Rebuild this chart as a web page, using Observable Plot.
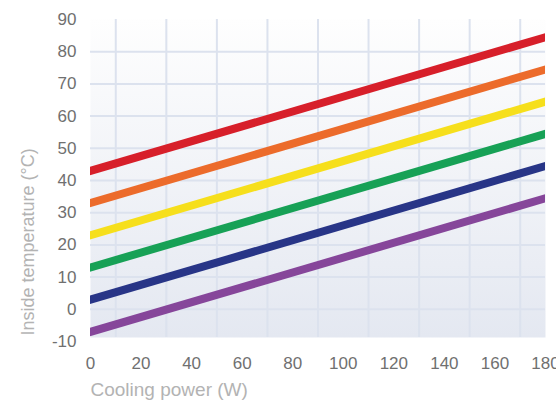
<!DOCTYPE html>
<html><head><meta charset="utf-8">
<script src="https://cdn.jsdelivr.net/npm/d3@7"></script>
<script src="https://cdn.jsdelivr.net/npm/@observablehq/plot@0.6"></script>
<style>body{margin:0;background:#fff;}</style>
</head><body><div id="chart"></div>
<script>
const coolingPower = [0, 180];
const seriesNames = ["Series 1", "Series 2", "Series 3", "Series 4", "Series 5", "Series 6"];
const startTemps = [43, 33, 23, 13, 3, -7];
const endTemps = [84.5, 74.5, 64.5, 54.5, 44.5, 34.5];
const seriesColors = ["#d71f2a", "#ec6b2b", "#f6df1c", "#17a156", "#283587", "#86469a"];
const xTicks = [0, 20, 40, 60, 80, 100, 120, 140, 160, 180];
const yTicks = [-10, 0, 10, 20, 30, 40, 50, 60, 70, 80, 90];
const xGrid = [10, 30, 50, 70, 90, 110, 130, 150, 170];
const yGrid = [0, 10, 20, 30, 40, 50, 60, 70, 80];
const xLabel = "Cooling power (W)";
const yLabel = "Inside temperature (°C)";

const rows = [];
seriesNames.forEach((s, i) => {
  rows.push({series: s, power: coolingPower[0], temp: startTemps[i]});
  rows.push({series: s, power: coolingPower[1], temp: endTemps[i]});
});

const font = "'Liberation Sans', Arial, Helvetica, sans-serif";

const defs = () => {
  const d = d3.create("svg:defs");
  const g = d.append("linearGradient").attr("id", "bgGrad")
    .attr("x1", 0).attr("y1", 0).attr("x2", 0).attr("y2", 1);
  g.append("stop").attr("offset", 0).attr("stop-color", "#fefefe");
  g.append("stop").attr("offset", 1).attr("stop-color", "#e4e8f1");
  return d.node();
};

const chart = Plot.plot({
  width: 556, height: 405,
  marginTop: 19, marginBottom: 68, marginLeft: 90, marginRight: 11,
  insetBottom: -4,
  style: {fontFamily: font, background: "#fff", overflow: "visible"},
  x: {domain: [0, 180], axis: null},
  y: {domain: [-10, 90], axis: null},
  color: {domain: seriesNames, range: seriesColors},
  marks: [
    defs,
    Plot.frame({fill: "url(#bgGrad)", stroke: null}),
    Plot.ruleX(xGrid, {stroke: "#dce2ee", strokeWidth: 2}),
    Plot.ruleY(yGrid, {stroke: "#dce2ee", strokeWidth: 2}),
    Plot.line(rows, {x: "power", y: "temp", z: "series", stroke: "series",
      strokeWidth: 8, strokeLinecap: "square", clip: true}),
    Plot.axisX(xTicks, {tickSize: 0, tickPadding: 19, label: null, fontSize: 17, fill: "#707070",
      tickFormat: d => String(d)}),
    Plot.axisY(yTicks, {tickSize: 0, tickPadding: 14, label: null, fontSize: 17, fill: "#707070",
      tickFormat: d => String(d)}),
    Plot.text([xLabel], {frameAnchor: "bottom-left", text: d => d, textAnchor: "start",
      lineAnchor: "middle", dy: 52, fontSize: 19, fill: "#b3b3b3"}),
    Plot.text([yLabel], {frameAnchor: "bottom-left", text: d => d, textAnchor: "start",
      lineAnchor: "middle", rotate: -90, dx: -62, dy: -2, fontSize: 18, fill: "#b3b3b3"})
  ]
});
document.getElementById("chart").append(chart);
</script>
</body></html>
